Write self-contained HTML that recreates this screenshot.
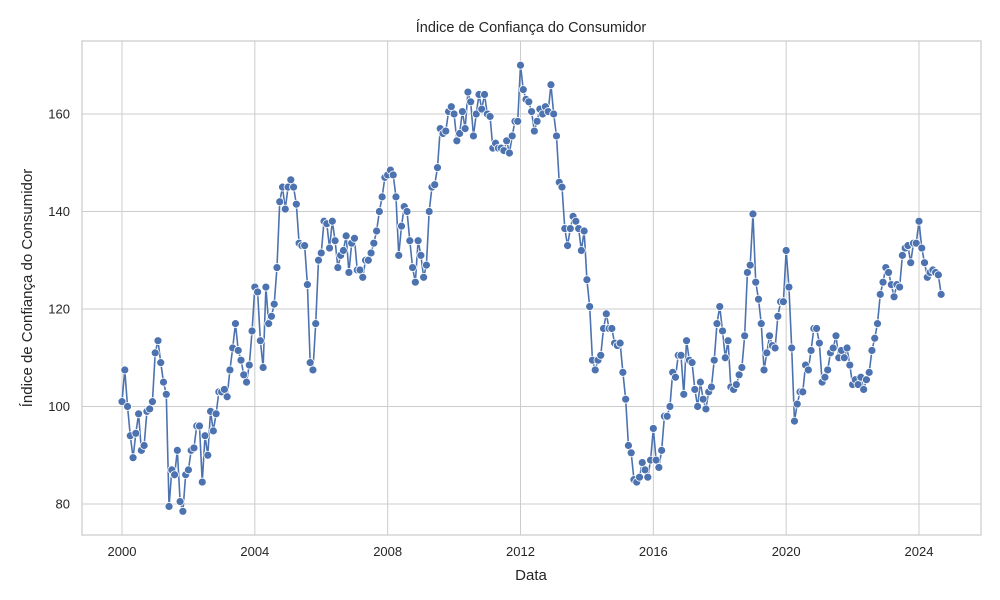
<!DOCTYPE html>
<html><head><meta charset="utf-8"><style>
body{margin:0;background:#fff;font-family:"Liberation Sans",sans-serif}
svg{display:block}
</style></head><body>
<svg id="chart" width="1000" height="600" xmlns="http://www.w3.org/2000/svg">
<rect x="0" y="0" width="1000" height="600" fill="#fff"/>
<g id="grid"></g>
<rect x="82" y="41" width="899" height="494" fill="none" stroke="#cccccc" stroke-width="1.25"/>
<g id="ticks"></g>
<g id="series"></g>
<text x="531" y="32" text-anchor="middle" font-size="14.5" fill="#262626">Índice de Confiança do Consumidor</text>
<text x="531" y="580" text-anchor="middle" font-size="15" fill="#262626">Data</text>
<text transform="translate(32,288) rotate(-90)" text-anchor="middle" font-size="15" fill="#262626">Índice de Confiança do Consumidor</text>
</svg>
<script>
const startYear = 2000;
const xTicks = [2000, 2004, 2008, 2012, 2016, 2020, 2024];
const yTicks = [80, 100, 120, 140, 160];
const values = [
101,107.5,100,94,89.5,94.5,98.5,91,92,99,99.5,101,
111,113.5,109,105,102.5,79.5,87,86,91,80.5,78.5,86,
87,91,91.5,96,96,84.5,94,90,99,95,98.5,103,
103,103.5,102,107.5,112,117,111.5,109.5,106.5,105,108.5,115.5,
124.5,123.5,113.5,108,124.5,117,118.5,121,128.5,142,145,140.5,
145,146.5,145,141.5,133.5,133,133,125,109,107.5,117,130,
131.5,138,137.5,132.5,138,134,128.5,131,132,135,127.5,133.5,
134.5,128,128,126.5,130,130,131.5,133.5,136,140,143,147,
147.5,148.5,147.5,143,131,137,141,140,134,128.5,125.5,134,
131,126.5,129,140,145,145.5,149,157,156,156.5,160.5,161.5,
160,154.5,156,160.5,157,164.5,162.5,155.5,160,164,161,164,
160,159.5,153,154,153,153,152.5,154.5,152,155.5,158.5,158.5,
170,165,163,162.5,160.5,156.5,158.5,161,160,161.5,160.5,166,
160,155.5,146,145,136.5,133,136.5,139,138,136.5,132,136,
126,120.5,109.5,107.5,109.5,110.5,116,119,116,116,113,112.5,
113,107,101.5,92,90.5,85,84.5,85.5,88.5,87,85.5,89,
95.5,89,87.5,91,98,98,100,107,106,110.5,110.5,102.5,
113.5,109.5,109,103.5,100,105,101.5,99.5,103,104,109.5,117,
120.5,115.5,110,113.5,104,103.5,104.5,106.5,108,114.5,127.5,129,
139.5,125.5,122,117,107.5,111,114.5,112.5,112,118.5,121.5,121.5,
132,124.5,112,97,100.5,103,103,108.5,107.5,111.5,116,116,
113,105,106,107.5,111,112,114.5,110,111.5,110,112,108.5,
104.5,105.5,104.5,106,103.5,105.5,107,111.5,114,117,123,125.5,
128.5,127.5,125,122.5,125,124.5,131,132.5,133,129.5,133.5,133.5,
138,132.5,129.5,126.5,127.5,128,127.5,127,123
];
const NS = "http://www.w3.org/2000/svg";
function xs(t){ return 122 + (t - 2000) * (797/24); }
function ys(v){ return 504 - (v - 80) * 4.875; }
const grid = document.getElementById('grid');
const ticks = document.getElementById('ticks');
xTicks.forEach(t => {
  const l = document.createElementNS(NS,'line');
  
  
  l.setAttribute('x1',xs(t)); l.setAttribute('x2',xs(t)); l.setAttribute('y1',41); l.setAttribute('y2',535);
  l.setAttribute('stroke','#cccccc'); l.setAttribute('stroke-width','1');
  grid.appendChild(l);
  const tx = document.createElementNS(NS,'text');
  
  
  tx.setAttribute('x',xs(t)); tx.setAttribute('y',556); tx.setAttribute('text-anchor','middle');
  tx.setAttribute('font-size','13'); tx.setAttribute('fill','#262626');
  tx.textContent = t; ticks.appendChild(tx);
});
yTicks.forEach(v => {
  const l = document.createElementNS(NS,'line');
  
  
  l.setAttribute('x1',82); l.setAttribute('x2',981); l.setAttribute('y1',ys(v)); l.setAttribute('y2',ys(v));
  l.setAttribute('stroke','#cccccc'); l.setAttribute('stroke-width','1');
  grid.appendChild(l);
  const tx = document.createElementNS(NS,'text');
  
  
  tx.setAttribute('x',70); tx.setAttribute('y',ys(v)+4.5); tx.setAttribute('text-anchor','end');
  tx.setAttribute('font-size','13'); tx.setAttribute('fill','#262626');
  tx.textContent = v; ticks.appendChild(tx);
});
const series = document.getElementById('series');
const pts = values.map((v,i) => [xs(startYear + i/12), ys(v)]);
const path = document.createElementNS(NS,'polyline');


path.setAttribute('points', pts.map(p => p[0].toFixed(2)+','+p[1].toFixed(2)).join(' '));
path.setAttribute('fill','none'); path.setAttribute('stroke','#4c72b0'); path.setAttribute('stroke-width','1.6');
series.appendChild(path);
pts.forEach(p => {
  const c = document.createElementNS(NS,'circle');
  
  
  c.setAttribute('cx',p[0].toFixed(2)); c.setAttribute('cy',p[1].toFixed(2)); c.setAttribute('r','4');
  c.setAttribute('fill','#4c72b0'); c.setAttribute('stroke','#fff'); c.setAttribute('stroke-width','0.8');
  series.appendChild(c);
});
</script>
</body></html>
